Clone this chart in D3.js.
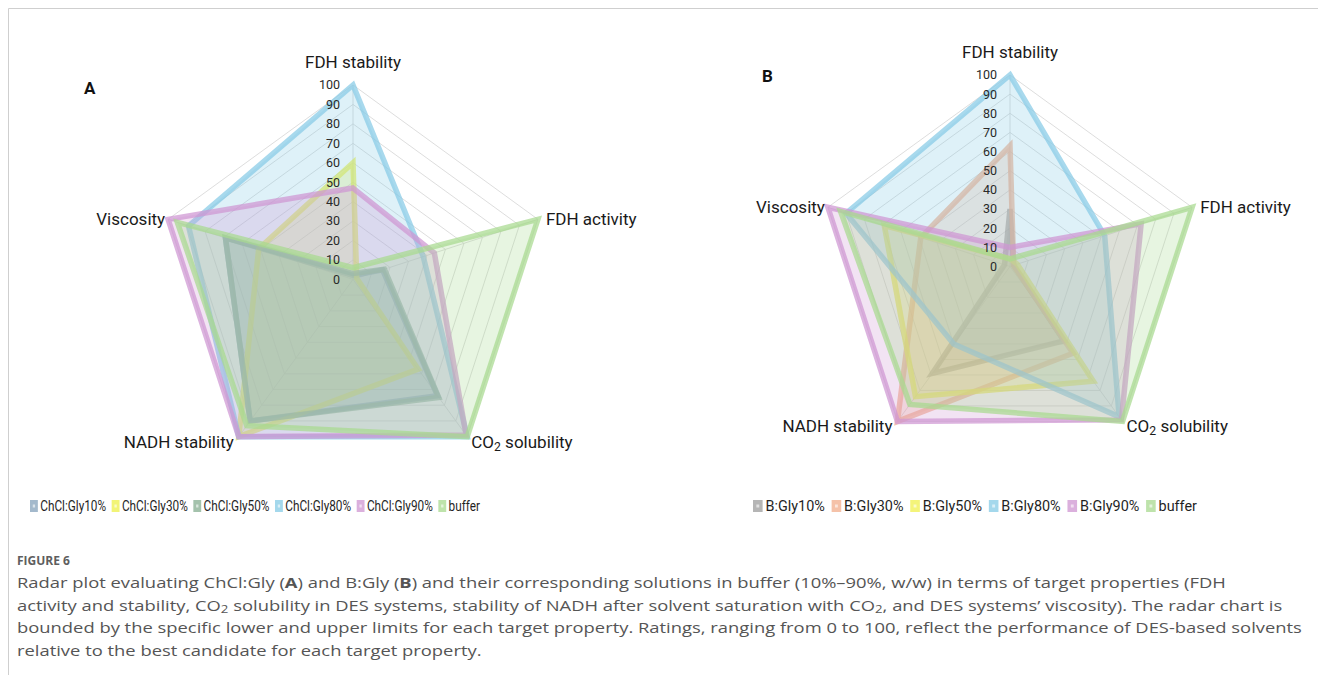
<!DOCTYPE html>
<html>
<head>
<meta charset="utf-8">
<script src="https://cdn.jsdelivr.net/npm/d3@7"></script>
<style>
  body { margin: 0; background: #fff; }
  svg { display: block; }
</style>
</head>
<body>
<svg id="fig" width="1318" height="675"></svg>
<script>
// target properties, clockwise from the top
const axisNames = ["FDH stability", "FDH activity", "CO2 solubility", "NADH stability", "Viscosity"];
const tickValues = [0, 10, 20, 30, 40, 50, 60, 70, 80, 90, 100];

// panel A - ChCl:Gly
const seriesA = ["ChCl:Gly10%", "ChCl:Gly30%", "ChCl:Gly50%", "ChCl:Gly80%", "ChCl:Gly90%", "buffer"];
const valuesA = [
  [2, 16, 74, 90, 69],
  [60, 2, 57, 100, 51],
  [3, 17, 75, 90, 69],
  [100, 38, 100, 100, 89],
  [47, 44, 99, 100, 100],
  [6, 100, 100, 93, 95]
];

// panel B - B:Gly
const seriesB = ["B:Gly10%", "B:Gly30%", "B:Gly50%", "B:Gly80%", "B:Gly90%", "buffer"];
const valuesB = [
  [30, 2, 48, 69, 3],
  [63, 2, 56, 100, 49],
  [4, 4, 74, 84, 69],
  [100, 52, 97, 50, 90],
  [10, 72, 99, 100, 100],
  [4, 100, 100, 89, 93]
];

const colorsA = ["#84a2bb", "#eef04a", "#85ad90", "#86cbe6", "#cf96d2", "#a8d98f"];
const colorsB = ["#9c9c9c", "#f2ad8c", "#f0f04e", "#86cbe6", "#cf96d2", "#a8d98f"];

const captionLines = [
  "Radar plot evaluating ChCl:Gly **(A)** and B:Gly **(B)** and their corresponding solutions in buffer (10%\u201390%, w/w) in terms of target properties (FDH",
  "activity and stability, CO_2 solubility in DES systems, stability of NADH after solvent saturation with CO_2, and DES systems\u2019 viscosity). The radar chart is",
  "bounded by the specific lower and upper limits for each target property. Ratings, ranging from 0 to 100, reflect the performance of DES-based solvents",
  "relative to the best candidate for each target property."
];

const svg = d3.select("#fig");
const chartFont = "Roboto, 'Liberation Sans', sans-serif";

// thin frame on top and left
svg.append("line").attr("x1", 8.5).attr("y1", 8.5).attr("x2", 1318).attr("y2", 8.5)
  .attr("stroke", "#cfcfcf").attr("stroke-width", 1);
svg.append("line").attr("x1", 8.5).attr("y1", 8.5).attr("x2", 8.5).attr("y2", 675)
  .attr("stroke", "#cfcfcf").attr("stroke-width", 1);

// writes "CO2 ..." with a subscript 2, and bold panel letters
function richText(textSel, str) {
  const parts = str.split(/(CO2|CO_2|\*\*\([AB]\)\*\*)/).filter(s => s.length);
  parts.forEach(p => {
    if (p === "CO2" || p === "CO_2") {
      textSel.append("tspan").text("CO");
      textSel.append("tspan").attr("baseline-shift", "-25%").style("font-size", "0.72em").text("2");
      textSel.append("tspan").text("");
    } else if (p.startsWith("**")) {
      const l = p.replace(/\*/g, "");
      textSel.append("tspan").text("(");
      textSel.append("tspan").style("font-weight", "bold").text(l.slice(1, 2));
      textSel.append("tspan").text(")");
    } else {
      textSel.append("tspan").text(p);
    }
  });
}

function drawRadar(cx, cy, R, values, colors, letter, letterX, letterY) {
  const g = svg.append("g").attr("transform", `translate(${cx},${cy})`);
  const r = d3.scaleLinear().domain([0, 100]).range([0, R]);
  const angle = d3.scaleLinear().domain([0, axisNames.length]).range([0, 2 * Math.PI]);
  const pt = (i, v) => [Math.sin(angle(i)) * r(v), -Math.cos(angle(i)) * r(v)];

  const radial = d3.lineRadial()
    .angle((d, i) => angle(i))
    .radius(d => r(d))
    .curve(d3.curveLinearClosed);

  // grid pentagons
  g.selectAll("path.grid")
    .data(tickValues.filter(t => t > 0))
    .enter().append("path")
    .attr("class", "grid")
    .attr("d", t => radial(axisNames.map(() => t)))
    .attr("fill", "none")
    .attr("stroke", "#d4d4d4")
    .attr("stroke-width", 0.8);

  // spokes
  g.selectAll("line.spoke")
    .data(axisNames)
    .enter().append("line")
    .attr("class", "spoke")
    .attr("x1", 0).attr("y1", 0)
    .attr("x2", (d, i) => pt(i, 100)[0])
    .attr("y2", (d, i) => pt(i, 100)[1])
    .attr("stroke", "#d4d4d4")
    .attr("stroke-width", 0.8);

  // series
  values.forEach((vals, k) => {
    g.append("path")
      .attr("d", radial(vals))
      .attr("fill", colors[k])
      .attr("fill-opacity", 0.27)
      .attr("stroke", colors[k])
      .attr("stroke-opacity", 0.72)
      .attr("stroke-width", 5.5)
      .attr("stroke-linejoin", "miter");
  });

  // tick labels along the top axis
  g.selectAll("text.tick")
    .data(tickValues)
    .enter().append("text")
    .attr("class", "tick")
    .attr("x", -13)
    .attr("y", d => -r(d))
    .attr("dy", "0.35em")
    .attr("text-anchor", "end")
    .style("font-family", chartFont)
    .style("font-size", "12.5px")
    .style("fill", "#2a2a2a")
    .text(d => d);

  // axis names
  const labelPlace = [
    { dx: 0, dy: -17, anchor: "middle", base: "auto" },
    { dx: 8, dy: 0, anchor: "start", base: "middle" },
    { dx: 4, dy: 5, anchor: "start", base: "middle" },
    { dx: -5, dy: 5, anchor: "end", base: "middle" },
    { dx: -3, dy: 0, anchor: "end", base: "middle" }
  ];
  axisNames.forEach((name, i) => {
    const [x, y] = pt(i, 100);
    const p = labelPlace[i];
    const t = g.append("text")
      .attr("x", x + p.dx)
      .attr("y", y + p.dy + (p.base === "middle" ? 6 : 0))
      .attr("text-anchor", p.anchor)
      .style("font-family", chartFont)
      .style("font-size", "17px")
      .style("fill", "#1a1a1a");
    richText(t, name);
  });

  svg.append("text")
    .attr("x", letterX).attr("y", letterY)
    .style("font-family", chartFont)
    .style("font-size", "17px")
    .style("font-weight", "bold")
    .style("fill", "#111")
    .text(letter);
}

drawRadar(353, 279.4, 194.4, valuesA, colorsA, "A", 84, 94);
drawRadar(1010, 266.5, 191.5, valuesB, colorsB, "B", 762, 82);

function drawLegend(names, colors, centerX, targetWidth, y) {
  const g = svg.append("g");
  let cursor = 0;
  names.forEach((n, k) => {
    const item = g.append("g").attr("transform", `translate(${cursor},0)`);
    item.append("rect").attr("x", 0).attr("y", -6).attr("width", 10).attr("height", 12)
      .attr("fill", colors[k]).attr("fill-opacity", 0.75);
    item.append("rect").attr("x", 3.5).attr("y", -1.5).attr("width", 3).attr("height", 3)
      .attr("fill", "#fff").attr("fill-opacity", 0.6);
    const t = item.append("text")
      .attr("x", 13).attr("dy", "0.36em")
      .style("font-family", chartFont)
      .style("font-size", "15px")
      .style("fill", "#1f1f1f")
      .text(n);
    cursor += 13 + t.node().getComputedTextLength() + 7;
  });
  const total = cursor - 7;
  const sx = targetWidth / total;
  g.attr("transform", `translate(${centerX - targetWidth / 2},${y}) scale(${sx},1)`);
}

drawLegend(seriesA, colorsA, 255, 450, 506);
drawLegend(seriesB, colorsB, 975, 444, 506);

// caption
const cap = svg.append("g");
cap.append("text")
  .attr("x", 17).attr("y", 565)
  .style("font-family", "'Open Sans', sans-serif")
  .style("font-size", "12px")
  .style("font-weight", "bold")
  .style("fill", "#5e5e5e")
  .text("FIGURE 6");

const body = cap.append("g");
const lineTexts = captionLines.map((line, i) => {
  const t = body.append("text")
    .attr("x", 0).attr("y", 588 + i * 22.6)
    .style("font-family", "'Open Sans', sans-serif")
    .style("font-size", "15px")
    .style("fill", "#555");
  richText(t, line);
  return t;
});
const natural = lineTexts[2].node().getComputedTextLength();
const capScale = (1303 - 17) / natural;
body.attr("transform", `translate(17,0) scale(${capScale},1)`);
</script>
</body>
</html>
